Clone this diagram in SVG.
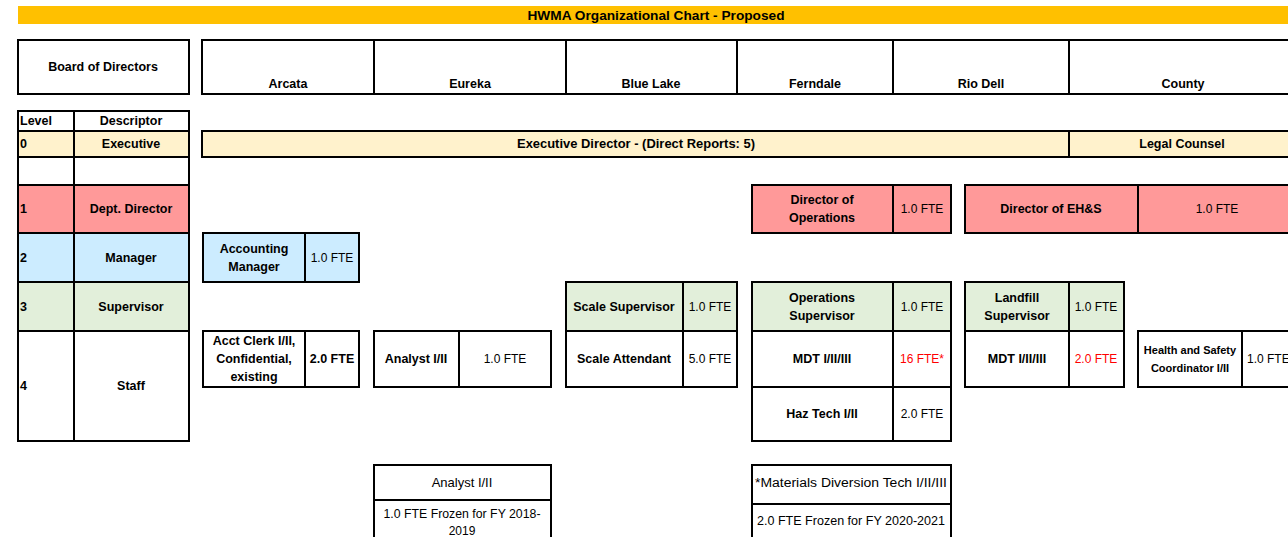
<svg xmlns="http://www.w3.org/2000/svg" width="1288" height="537" viewBox="0 0 1288 537">
<style>
text{font-family:"Liberation Sans",Arial,sans-serif;font-size:12px;fill:#000;text-anchor:middle;dominant-baseline:central}
.b{font-weight:bold;font-size:12.5px}
.l{text-anchor:start}
.s{font-size:11px}
.red{fill:#FF0000}
.box{stroke:#000;stroke-width:2}
.ln{stroke:#000;stroke-width:2;fill:none}
.exec{fill:#FFF2CC}
.dir{fill:#FF9999}
.mgr{fill:#CCECFF}
.sup{fill:#E2EFDA}
.wht{fill:#FFFFFF}
</style>
<rect width="1288" height="537" fill="#FFFFFF"/>
<g id="title">
<rect x="18" y="6" width="1270" height="18" fill="#FFC000"/>
<text class="b" x="656" y="15" style="font-size:13px" textLength="257" lengthAdjust="spacingAndGlyphs">HWMA Organizational Chart - Proposed</text>
</g>
<g id="board">
<rect class="box wht" x="18" y="40" width="171" height="54"/>
<text class="b" x="103" y="67">Board of Directors</text>
</g>
<g id="cities">
<rect class="box wht" x="202" y="40" width="1100" height="54"/>
<path class="ln" d="M374 40V94M566 40V94M737 40V94M893 40V94M1069 40V94"/>
<text class="b" x="288" y="84">Arcata</text>
<text class="b" x="470" y="84">Eureka</text>
<text class="b" x="651" y="84">Blue Lake</text>
<text class="b" x="815" y="84">Ferndale</text>
<text class="b" x="981" y="84">Rio Dell</text>
<text class="b" x="1183" y="84">County</text>
</g>
<g id="levels">
<rect class="box wht" x="18" y="111" width="171" height="20"/>
<rect class="box exec" x="18" y="131" width="171" height="26"/>
<rect class="box wht" x="18" y="157" width="171" height="28"/>
<rect class="box dir" x="18" y="185" width="171" height="48"/>
<rect class="box mgr" x="18" y="233" width="171" height="49"/>
<rect class="box sup" x="18" y="282" width="171" height="49"/>
<rect class="box wht" x="18" y="331" width="171" height="110"/>
<path class="ln" d="M74 111V441"/>
<text class="b l" x="20" y="121">Level</text>
<text class="b" x="131" y="121">Descriptor</text>
<text class="b l" x="20" y="144">0</text>
<text class="b" x="131" y="144">Executive</text>
<text class="b l" x="20" y="209">1</text>
<text class="b" x="131" y="209">Dept. Director</text>
<text class="b l" x="20" y="258">2</text>
<text class="b" x="131" y="258">Manager</text>
<text class="b l" x="20" y="307">3</text>
<text class="b" x="131" y="307">Supervisor</text>
<text class="b l" x="20" y="386">4</text>
<text class="b" x="131" y="386">Staff</text>
</g>
<g id="executive-director">
<rect class="box exec" x="202" y="131" width="867" height="26"/>
<text class="b" x="636" y="144" textLength="238" lengthAdjust="spacingAndGlyphs">Executive Director -  (Direct Reports: 5)</text>
</g>
<g id="legal-counsel">
<rect class="box exec" x="1069" y="131" width="233" height="26"/>
<text class="b" x="1182" y="144">Legal Counsel</text>
</g>
<g id="director-operations">
<rect class="box dir" x="752" y="185" width="199" height="48"/>
<path class="ln" d="M893 185V233"/>
<text class="b" x="822" y="200">Director of</text>
<text class="b" x="822" y="218">Operations</text>
<text x="922" y="209">1.0 FTE</text>
</g>
<g id="director-ehs">
<rect class="box dir" x="965" y="185" width="340" height="48"/>
<path class="ln" d="M1138 185V233"/>
<text class="b" x="1051" y="209">Director of EH&amp;S</text>
<text x="1217" y="209">1.0 FTE</text>
</g>
<g id="accounting-manager">
<rect class="box mgr" x="203" y="233" width="156" height="49"/>
<path class="ln" d="M305 233V282"/>
<text class="b" x="254" y="249">Accounting</text>
<text class="b" x="254" y="267">Manager</text>
<text x="332" y="258">1.0 FTE</text>
</g>
<g id="acct-clerk">
<rect class="box wht" x="203" y="331" width="156" height="56"/>
<path class="ln" d="M305 331V387"/>
<text class="b" x="254" y="341">Acct Clerk I/II,</text>
<text class="b" x="254" y="359">Confidential,</text>
<text class="b" x="254" y="377">existing</text>
<text class="b" x="332" y="359">2.0 FTE</text>
</g>
<g id="analyst">
<rect class="box wht" x="374" y="331" width="177" height="56"/>
<path class="ln" d="M459 331V387"/>
<text class="b" x="416" y="359">Analyst I/II</text>
<text x="505" y="359">1.0 FTE</text>
</g>
<g id="scale-supervisor">
<rect class="box sup" x="566" y="282" width="171" height="49"/>
<path class="ln" d="M683 282V331"/>
<text class="b" x="624" y="307">Scale Supervisor</text>
<text x="710" y="307">1.0 FTE</text>
</g>
<g id="scale-attendant">
<rect class="box wht" x="566" y="331" width="171" height="56"/>
<path class="ln" d="M683 331V387"/>
<text class="b" x="624" y="359">Scale Attendant</text>
<text x="710" y="359">5.0 FTE</text>
</g>
<g id="operations-supervisor">
<rect class="box sup" x="752" y="282" width="199" height="49"/>
<path class="ln" d="M893 282V331"/>
<text class="b" x="822" y="298">Operations</text>
<text class="b" x="822" y="316">Supervisor</text>
<text x="922" y="307">1.0 FTE</text>
</g>
<g id="mdt-operations">
<rect class="box wht" x="752" y="331" width="199" height="56"/>
<path class="ln" d="M893 331V387"/>
<text class="b" x="822" y="359">MDT I/II/III</text>
<text class="red" x="922" y="359">16 FTE*</text>
</g>
<g id="haz-tech">
<rect class="box wht" x="752" y="387" width="199" height="54"/>
<path class="ln" d="M893 387V441"/>
<text class="b" x="822" y="414">Haz Tech I/II</text>
<text x="922" y="414">2.0 FTE</text>
</g>
<g id="landfill-supervisor">
<rect class="box sup" x="965" y="282" width="159" height="49"/>
<path class="ln" d="M1069 282V331"/>
<text class="b" x="1017" y="298">Landfill</text>
<text class="b" x="1017" y="316">Supervisor</text>
<text x="1096" y="307">1.0 FTE</text>
</g>
<g id="mdt-landfill">
<rect class="box wht" x="965" y="331" width="159" height="56"/>
<path class="ln" d="M1069 331V387"/>
<text class="b" x="1017" y="359">MDT I/II/III</text>
<text class="red" x="1096" y="359">2.0 FTE</text>
</g>
<g id="health-safety">
<rect class="box wht" x="1138" y="331" width="170" height="56"/>
<path class="ln" d="M1242 331V387"/>
<text class="b s" x="1190" y="350">Health and Safety</text>
<text class="b s" x="1190" y="368">Coordinator I/II</text>
<text class="l" x="1247" y="359">1.0 FTE</text>
</g>
<g id="analyst-frozen">
<path class="ln" d="M374 537V465H551V537M374 500H551"/>
<text x="462" y="482" style="font-size:13px">Analyst I/II</text>
<text x="462" y="514" textLength="157" lengthAdjust="spacingAndGlyphs">1.0 FTE Frozen for FY 2018-</text>
<text x="462" y="531">2019</text>
</g>
<g id="mdt-frozen">
<path class="ln" d="M752 537V465H951V537M752 504H951"/>
<text x="851" y="483" style="font-size:12.5px" textLength="192" lengthAdjust="spacingAndGlyphs">*Materials Diversion Tech  I/II/III</text>
<text x="851" y="521" textLength="188" lengthAdjust="spacingAndGlyphs">2.0 FTE Frozen for FY 2020-2021</text>
</g>
<g id="connectors"/>
</svg>
